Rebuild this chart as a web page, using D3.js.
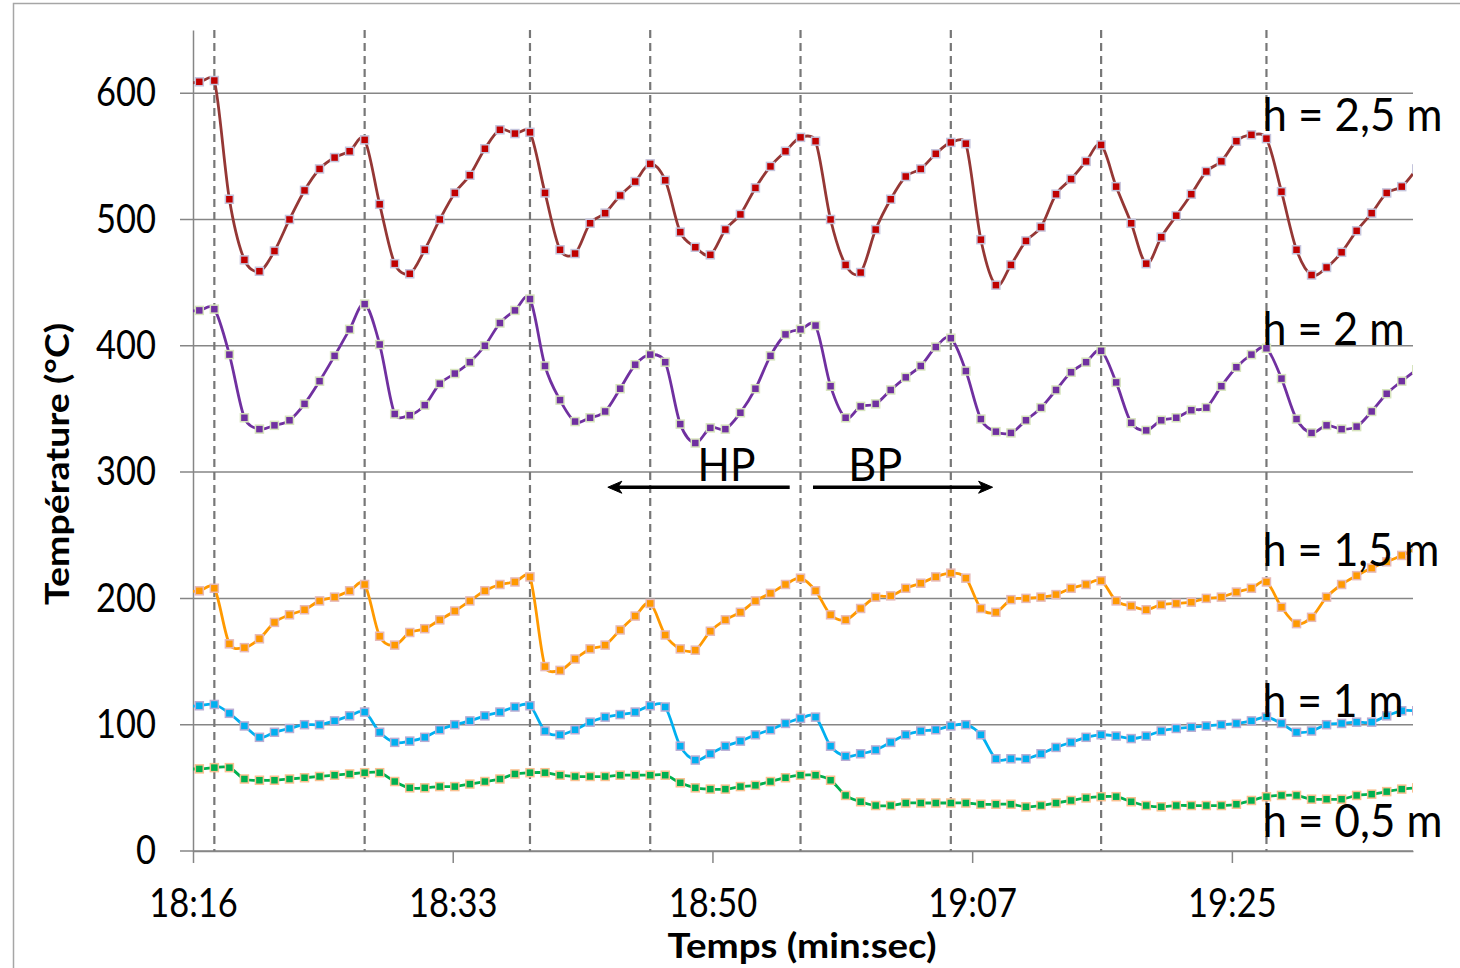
<!DOCTYPE html>
<html>
<head>
<meta charset="utf-8">
<script src="https://cdn.jsdelivr.net/npm/d3@7"></script>
<style>
  body { margin: 0; background: #fff; }
  text { font-family: Lato, 'Open Sans', sans-serif; }
</style>
</head>
<body>
<svg id="drawing_region"></svg>
<script>
// time axis: minutes after 18:16, one sample per minute
// (first sample sits just left of the axis and is clipped)
const tickLabels = ['18:16', '18:33', '18:50', '19:07', '19:25'];
const tickMinutes = [0, 17.28, 34.56, 51.84, 69.12];
const yTickValues = [0, 100, 200, 300, 400, 500, 600];
const firstSample = -0.58;

const h25 = [607,
             609, 610, 516, 468, 459, 475, 500, 523, 540, 549,
             554, 563, 512, 465, 457, 476, 500, 521, 535, 556,
             571, 568, 569, 521, 476, 473, 497, 505, 519, 530,
             544, 531, 490, 478, 472, 492, 504, 525, 542, 554,
             565, 562, 500, 464, 458, 492, 516, 534, 540, 552,
             561, 560, 484, 448, 464, 483, 494, 520, 532, 546,
             559, 526, 497, 465, 486, 503, 520, 538, 546, 562,
             567, 564, 522, 476, 456, 462, 474, 491, 505, 521,
             526, 540];
const h20 = [427,
             428, 429, 393, 343, 334, 337, 341, 354, 372, 392,
             413, 433, 401, 346, 345, 353, 370, 378, 387, 400,
             418, 428, 437, 384, 357, 340, 343, 348, 366, 385,
             393, 387, 338, 323, 335, 334, 347, 366, 392, 409,
             413, 416, 368, 343, 352, 354, 365, 375, 384, 399,
             406, 380, 342, 332, 331, 341, 351, 365, 379, 387,
             396, 371, 339, 333, 341, 343, 349, 351, 368, 383,
             393, 398, 374, 342, 331, 337, 334, 336, 348, 362,
             372, 381];
const h15 = [205,
             206, 208, 164, 161, 168, 181, 187, 191, 198, 201,
             206, 211, 170, 163, 173, 176, 183, 190, 198, 206,
             211, 213, 217, 146, 143, 152, 160, 163, 175, 186,
             196, 171, 160, 159, 174, 183, 189, 198, 204, 211,
             216, 206, 187, 183, 192, 201, 202, 208, 212, 217,
             220, 216, 192, 189, 199, 200, 201, 203, 208, 211,
             214, 198, 194, 191, 195, 196, 197, 200, 201, 205,
             208, 213, 193, 180, 185, 201, 211, 218, 224, 229,
             234, 240];
const h10 = [114,
             115, 116, 109, 99, 90, 94, 97, 100, 100, 103,
             107, 110, 94, 86, 87, 90, 96, 100, 103, 107,
             110, 114, 115, 95, 92, 96, 102, 106, 108, 110,
             115, 114, 83, 72, 77, 83, 87, 92, 96, 101,
             105, 106, 83, 75, 77, 80, 86, 92, 95, 96,
             99, 100, 92, 73, 73, 73, 77, 82, 86, 90,
             92, 91, 89, 91, 95, 97, 98, 99, 100, 101,
             103, 106, 101, 94, 95, 100, 101, 102, 102, 107,
             111, 111];
const h05 = [65,
             65, 66, 66, 57, 56, 56, 57, 58, 59, 60,
             61, 62, 62, 55, 50, 50, 51, 51, 53, 55,
             57, 61, 62, 62, 60, 59, 59, 59, 60, 60,
             60, 60, 54, 50, 49, 49, 51, 52, 55, 58,
             60, 60, 56, 44, 39, 36, 36, 38, 38, 38,
             38, 38, 37, 37, 37, 35, 36, 38, 40, 42,
             43, 43, 39, 36, 35, 36, 36, 36, 36, 37,
             40, 43, 44, 44, 41, 41, 41, 44, 45, 47,
             49, 50];
const seriesNames = ['h = 2,5 m', 'h = 2 m', 'h = 1,5 m', 'h = 1 m', 'h = 0,5 m'];
// samples where the dashed cycle markers are drawn
const cycleIdx = [2, 12, 23, 31, 41, 51, 61, 72];

var config = {
    parent: '#drawing_region',
    width: 1460,
    height: 968,
    margin: {top: 30, right: 47, bottom: 117, left: 193}
};

// Excel-like smoothed line: Catmull-Rom bezier, control arms capped
// at half of the segment so short flat steps do not bulge
function smoothLine(pts) {
  const p = d3.path();
  const n = pts.length;
  const tan = pts.map((q, i) => {
    const a = pts[Math.max(i - 1, 0)], b = pts[Math.min(i + 1, n - 1)];
    return [(b[0] - a[0]) / 6, (b[1] - a[1]) / 6];
  });
  p.moveTo(pts[0][0], pts[0][1]);
  for (let i = 0; i < n - 1; i++) {
    const a = pts[i], b = pts[i + 1];
    const seg = Math.hypot(b[0] - a[0], b[1] - a[1]);
    const cap = t => {
      const l = Math.hypot(t[0], t[1]);
      return l > seg * 0.5 ? seg * 0.5 / l : 1;
    };
    const fa = cap(tan[i]), fb = cap(tan[i + 1]);
    p.bezierCurveTo(a[0] + tan[i][0] * fa, a[1] + tan[i][1] * fa,
                    b[0] - tan[i + 1][0] * fb, b[1] - tan[i + 1][1] * fb,
                    b[0], b[1]);
  }
  return p.toString();
}

class LineChart {
  constructor(config, data) {
    this.config = config;
    this.data = data;
    this.init();
  }
  init() {
    let self = this;
    self.svg = d3.select(self.config.parent)
        .attr('width', self.config.width)
        .attr('height', self.config.height);
    self.svg.append('rect')
        .attr('x', 13.5).attr('y', 3.5)
        .attr('width', 1500).attr('height', 1000)
        .attr('fill', 'none').attr('stroke', '#a6a6a6').attr('stroke-width', 1.5);
    self.chart = self.svg.append('g')
        .attr('transform', `translate(${self.config.margin.left}, ${self.config.margin.top})`);
    self.inner_width = self.config.width - self.config.margin.left - self.config.margin.right;
    self.inner_height = self.config.height - self.config.margin.top - self.config.margin.bottom;

    self.xscale = d3.scaleLinear().domain([0, 81.17]).range([0, self.inner_width]);
    self.yscale = d3.scaleLinear().domain([0, 650]).range([self.inner_height, 0]);

    self.svg.append('defs').append('clipPath').attr('id', 'plotclip')
      .append('rect')
        .attr('x', 0).attr('y', -10)
        .attr('width', self.inner_width).attr('height', self.inner_height + 10);
  }
  render() {
    let self = this;
    const grey = '#868686';

    self.chart.append('g').selectAll('line')
      .data(yTickValues)
      .join('line')
        .attr('x1', -13).attr('x2', self.inner_width)
        .attr('y1', d => self.yscale(d)).attr('y2', d => self.yscale(d))
        .attr('stroke', grey).attr('stroke-width', 1.5);

    self.chart.append('g').selectAll('line')
      .data(cycleIdx)
      .join('line')
        .attr('x1', d => self.xscale(self.data.times[d]))
        .attr('x2', d => self.xscale(self.data.times[d]))
        .attr('y1', 0).attr('y2', self.inner_height)
        .attr('stroke', '#777').attr('stroke-width', 2.2)
        .attr('stroke-dasharray', '8,5');

    const yaxis = d3.axisLeft(self.yscale)
        .tickValues(yTickValues).tickSize(0).tickSizeOuter(0).tickPadding(37);
    const yg = self.chart.append('g').call(yaxis);
    const xaxis = d3.axisBottom(self.xscale)
        .tickValues(tickMinutes).tickFormat((d, i) => tickLabels[i])
        .tickSize(12).tickSizeOuter(0).tickPadding(26);
    const xg = self.chart.append('g')
        .attr('transform', `translate(0, ${self.inner_height})`)
        .call(xaxis);
    [yg, xg].forEach(g => {
      g.select('.domain').attr('stroke', grey).attr('stroke-width', 1.5);
      g.selectAll('.tick line').attr('stroke', grey).attr('stroke-width', 1.5);
      g.selectAll('text').attr('font-size', 40).attr('fill', '#000')
        .attr('font-family', "Lato, 'Open Sans', sans-serif");
    });
    // narrow the tick glyphs to the reference widths
    const k = 60 / yg.selectAll('text').filter(d => d === 600).node().getComputedTextLength();
    self.chart.selectAll('.tick text').each(function() {
      d3.select(this).attr('textLength', this.getComputedTextLength() * k)
        .attr('lengthAdjust', 'spacingAndGlyphs');
    });

    const plot = self.chart.append('g').attr('clip-path', 'url(#plotclip)');
    self.data.series.forEach(s => {
      const pts = s.values.map((v, i) => ({t: self.data.times[i], v: v}));
      plot.append('path')
          .attr('d', smoothLine(pts.map(d => [self.xscale(d.t), self.yscale(d.v)])))
          .attr('fill', 'none').attr('stroke', s.line).attr('stroke-width', 2.8);
      plot.append('g').selectAll('rect')
        .data(pts)
        .join('rect')
          .attr('x', d => self.xscale(d.t) - 4)
          .attr('y', d => self.yscale(d.v) - 4)
          .attr('width', 8).attr('height', 8)
          .attr('fill', s.fill).attr('stroke', s.edge).attr('stroke-width', 1.5);
    });

    // series labels at the right
    const labelY = [570, 401, 226, 106, 11];
    const labelW = [180, 142, 177, 141, 180];
    self.chart.append('g').selectAll('text')
      .data(self.data.series)
      .join('text')
        .attr('x', self.xscale(self.data.times[72]) - 4)
        .attr('y', (d, i) => self.yscale(labelY[i]))
        .attr('font-size', 46)
        .attr('textLength', (d, i) => labelW[i])
        .attr('lengthAdjust', 'spacingAndGlyphs')
        .text(d => d.name);

    // HP / BP annotation
    const ay = self.yscale(288);
    const arrows = [
      {from: 39.7, to: 27.6, label: 'HP', lx: 35.5, lw: 58},
      {from: 41.25, to: 53.2, label: 'BP', lx: 45.4, lw: 54}
    ];
    const ag = self.chart.append('g');
    arrows.forEach(a => {
      const x0 = self.xscale(a.from), x1 = self.xscale(a.to);
      const dir = x1 > x0 ? 1 : -1;
      ag.append('line')
          .attr('x1', x0).attr('x2', x1 - dir * 8)
          .attr('y1', ay).attr('y2', ay)
          .attr('stroke', '#000').attr('stroke-width', 3.5);
      ag.append('path')
          .attr('d', `M${x1},${ay} L${x1 - dir * 14},${ay - 6} L${x1 - dir * 10},${ay} L${x1 - dir * 14},${ay + 6} Z`)
          .attr('fill', '#000').attr('stroke', '#000').attr('stroke-width', 1);
      ag.append('text')
          .attr('x', self.xscale(a.lx)).attr('y', self.yscale(293))
          .attr('text-anchor', 'middle').attr('font-size', 46)
          .attr('textLength', a.lw).attr('lengthAdjust', 'spacingAndGlyphs')
          .text(a.label);
    });

    // axis titles
    self.svg.append('text')
        .attr('transform', 'translate(69, 464) rotate(-90)')
        .attr('text-anchor', 'middle').attr('font-size', 33).attr('font-weight', 'bold')
        .attr('textLength', 282).attr('lengthAdjust', 'spacingAndGlyphs')
        .text('Température (°C)');
    self.svg.append('text')
        .attr('x', 802).attr('y', 958)
        .attr('text-anchor', 'middle').attr('font-size', 34).attr('font-weight', 'bold')
        .attr('textLength', 269).attr('lengthAdjust', 'spacingAndGlyphs')
        .text('Temps (min:sec)');
  }
}

const data = {
  times: h25.map((v, i) => firstSample + i),
  series: [
    {name: seriesNames[0], values: h25, line: '#953735', fill: '#c00000', edge: '#c4c4dc'},
    {name: seriesNames[1], values: h20, line: '#7030a0', fill: '#7030a0', edge: '#d7e4bd'},
    {name: seriesNames[2], values: h15, line: '#ff9900', fill: '#ff9900', edge: '#e6b9b8'},
    {name: seriesNames[3], values: h10, line: '#00b0f0', fill: '#00b0f0', edge: '#b9acd3'},
    {name: seriesNames[4], values: h05, line: '#00b050', fill: '#00b050', edge: '#fac090'}
  ]
};

const line_plot = new LineChart(config, data);
line_plot.render();
</script>
</body>
</html>
